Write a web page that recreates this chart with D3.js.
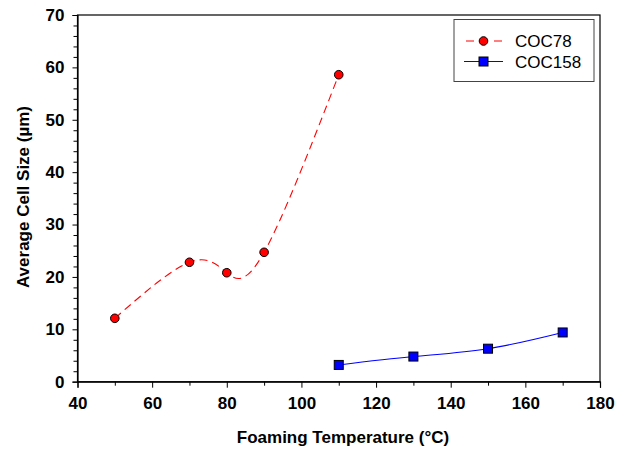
<!DOCTYPE html>
<html>
<head>
<meta charset="utf-8">
<script src="https://cdn.jsdelivr.net/npm/d3@7"></script>
<style>
  html, body { margin: 0; padding: 0; background: #fff; }
  svg { display: block; font-family: Arial, "Liberation Sans", sans-serif; }
</style>
</head>
<body>
<svg id="chart" width="618" height="453"></svg>
<script>
// Foaming temperature (°C) and average cell size (µm) for the two grades
const coc78Temp = [50, 70, 80, 90, 110];
const coc78Size = [12.1, 22.8, 20.8, 24.7, 58.6];
const coc158Temp = [110, 130, 150, 170];
const coc158Size = [3.2, 4.8, 6.3, 9.4];

const xTicks = [40, 60, 80, 100, 120, 140, 160, 180];
const yTicks = [0, 10, 20, 30, 40, 50, 60, 70];
const seriesNames = ["COC78", "COC158"];

const svg = d3.select("#chart");
const plotL = 77.5, plotR = 600, plotT = 15, plotB = 381.7;

const x = d3.scaleLinear().domain([40, 180]).range([plotL, plotR]);
const y = d3.scaleLinear().domain([0, 70]).range([plotB, plotT]);

// frame
svg.append("rect")
  .attr("x", plotL).attr("y", plotT)
  .attr("width", plotR - plotL).attr("height", plotB - plotT)
  .attr("fill", "none").attr("stroke", "#000").attr("stroke-width", 1.2);

// minor ticks
const xMinor = d3.range(50, 180, 20);
const yMinor = d3.range(2, 70, 2).filter(v => v % 10 !== 0);

svg.append("g").attr("transform", `translate(0,${plotB})`)
  .call(d3.axisBottom(x).tickValues(xTicks).tickSize(6).tickPadding(9).tickFormat(d3.format("d")));
svg.append("g").attr("transform", `translate(0,${plotB})`)
  .call(d3.axisBottom(x).tickValues(xMinor).tickSize(4).tickFormat(""))
  .call(g => g.select(".domain").remove());

svg.append("g").attr("transform", `translate(${plotL},0)`)
  .call(d3.axisLeft(y).tickValues(yTicks).tickSize(5).tickPadding(8).tickFormat(d3.format("d")));
svg.append("g").attr("transform", `translate(${plotL},0)`)
  .call(d3.axisLeft(y).tickValues(yMinor).tickSize(4).tickFormat(""))
  .call(g => g.select(".domain").remove());

svg.selectAll(".domain").attr("stroke", "#000").attr("stroke-width", 1.2);
svg.selectAll(".tick line").attr("stroke", "#000").attr("stroke-width", 1);
svg.selectAll(".tick text")
  .attr("font-size", 17).attr("font-weight", "bold").attr("fill", "#000")
  .attr("font-family", "Arial, 'Liberation Sans', sans-serif");

// axis titles
svg.append("text")
  .attr("x", 343).attr("y", 443)
  .attr("text-anchor", "middle").attr("font-size", 17).attr("font-weight", "bold")
  .text("Foaming Temperature (°C)");
svg.append("text")
  .attr("transform", `translate(29,197) rotate(-90)`)
  .attr("text-anchor", "middle").attr("font-size", 17).attr("font-weight", "bold")
  .text("Average Cell Size (µm)");

const line = d3.line().x(d => x(d[0])).y(d => y(d[1])).curve(d3.curveNatural);

const red = coc78Temp.map((t, i) => [t, coc78Size[i]]);
const blue = coc158Temp.map((t, i) => [t, coc158Size[i]]);

svg.append("path").datum(red).attr("d", line)
  .attr("fill", "none").attr("stroke", "#ff0000").attr("stroke-width", 1.1)
  .attr("stroke-dasharray", "8,5");
svg.append("path").datum(blue).attr("d", line)
  .attr("fill", "none").attr("stroke", "#0000ff").attr("stroke-width", 1.1);

svg.append("g").selectAll("circle").data(red).join("circle")
  .attr("cx", d => x(d[0])).attr("cy", d => y(d[1])).attr("r", 4.3)
  .attr("fill", "#ff0000").attr("stroke", "#000").attr("stroke-width", 1);
svg.append("g").selectAll("rect").data(blue).join("rect")
  .attr("x", d => x(d[0]) - 4.5).attr("y", d => y(d[1]) - 4.5)
  .attr("width", 9).attr("height", 9)
  .attr("fill", "#0000ff").attr("stroke", "#000").attr("stroke-width", 1);

// legend
const lg = svg.append("g");
lg.append("rect").attr("x", 454).attr("y", 19.5).attr("width", 140).attr("height", 62)
  .attr("fill", "#fff").attr("stroke", "#444").attr("stroke-width", 1);
const rows = [
  { name: seriesNames[0], color: "#ff0000", dash: "8,5", shape: "circle", y: 41 },
  { name: seriesNames[1], color: "#0000ff", dash: null, shape: "square", y: 61.5 }
];
rows.forEach(r => {
  lg.append("line").attr("x1", 464).attr("x2", 503).attr("y1", r.y).attr("y2", r.y)
    .attr("stroke", r.color).attr("stroke-width", 1.1)
    .attr("stroke-dasharray", r.dash ? "8,6" : null)
    .attr("stroke-dashoffset", r.dash ? -2 : null);
  if (r.shape === "circle") {
    lg.append("circle").attr("cx", 483.5).attr("cy", r.y).attr("r", 4.3)
      .attr("fill", r.color).attr("stroke", "#000");
  } else {
    lg.append("rect").attr("x", 479).attr("y", r.y - 4.5).attr("width", 9).attr("height", 9)
      .attr("fill", r.color).attr("stroke", "#000");
  }
  lg.append("text").attr("x", 515).attr("y", r.y + 6)
    .attr("font-size", 17).attr("fill", "#000").text(r.name);
});
</script>
</body>
</html>
